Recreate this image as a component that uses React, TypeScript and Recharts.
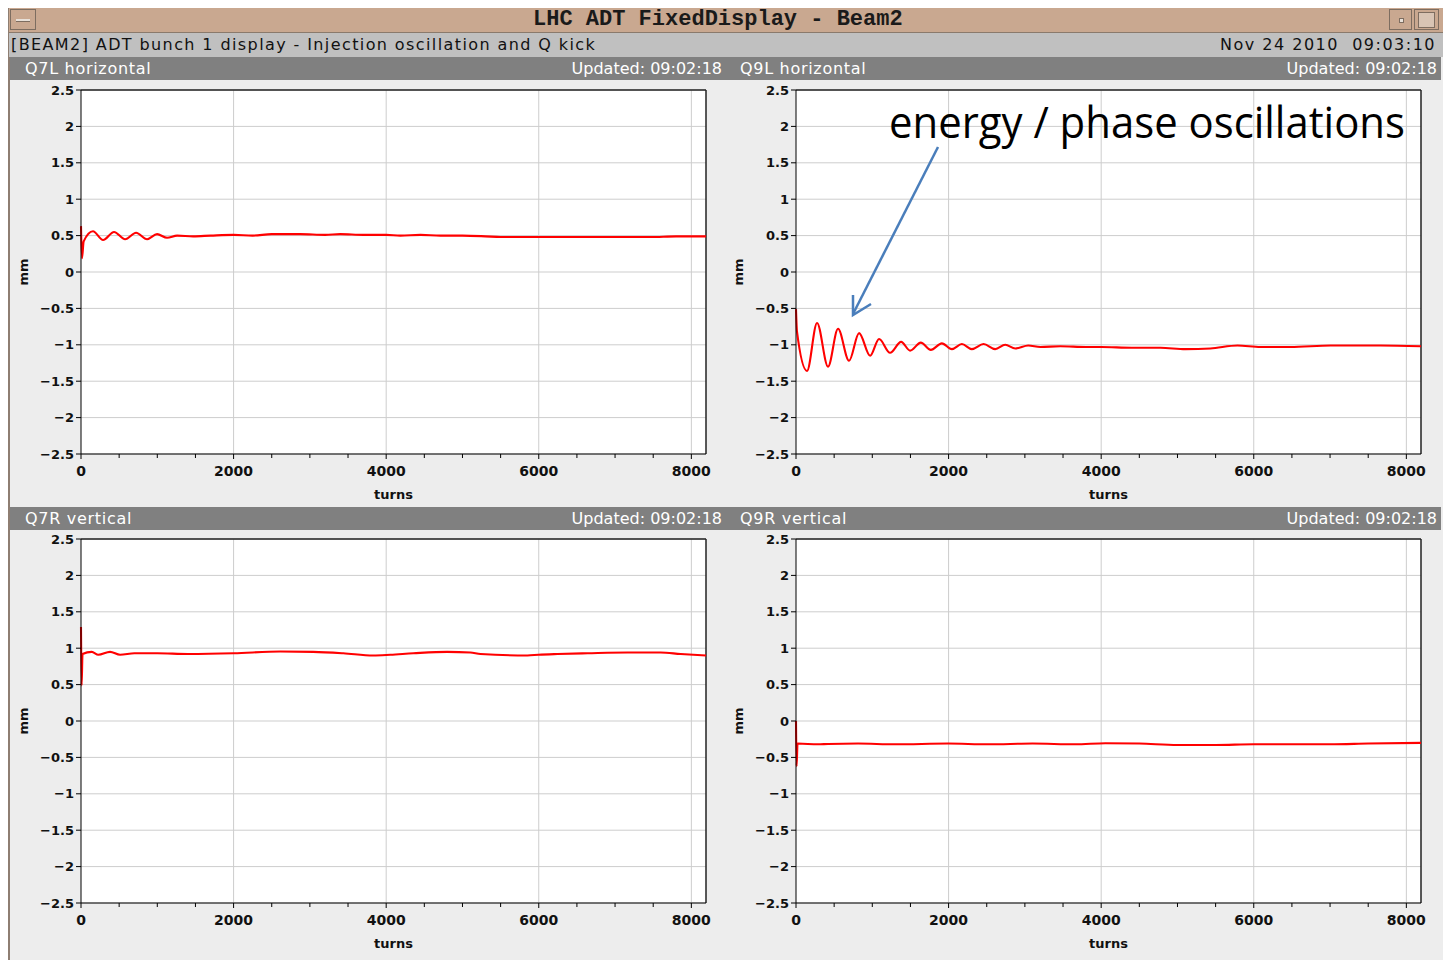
import React from "react";
import { LineChart, Line, XAxis, YAxis, CartesianGrid, ReferenceLine } from "recharts";

// axis setup
const xMax = 8192;
const xTicks = [0, 500, 1000, 1500, 2000, 2500, 3000, 3500, 4000, 4500, 5000, 5500, 6000, 6500, 7000, 7500, 8000];
const xGrid = [2000, 4000, 6000, 8000];
const yTicks = [-2.5, -2, -1.5, -1, -0.5, 0, 0.5, 1, 1.5, 2, 2.5];

// Q7L horizontal
const q7lTurns = [0, 13, 35, 157, 289, 433, 578, 722, 866, 997, 1128, 1260, 1470, 1700, 2000, 2250, 2500, 2874, 3200, 3399, 3700, 4000, 4186, 4450, 4711, 5000, 5300, 5498, 5800, 5997, 6400, 6810, 7100, 7466, 7800, 8192];
const q7lValues = [0.63, 0.19, 0.42, 0.56, 0.44, 0.55, 0.45, 0.54, 0.45, 0.52, 0.47, 0.5, 0.49, 0.5, 0.51, 0.5, 0.52, 0.52, 0.51, 0.52, 0.51, 0.51, 0.5, 0.51, 0.5, 0.5, 0.49, 0.48, 0.48, 0.48, 0.48, 0.48, 0.48, 0.48, 0.49, 0.49];

// Q9L horizontal
const q9lTurns = [0, 13, 144, 276, 420, 551, 695, 827, 971, 1089, 1233, 1378, 1496, 1636, 1767, 1912, 2043, 2174, 2305, 2458, 2611, 2742, 2874, 3044, 3202, 3464, 3800, 4002, 4400, 4776, 5104, 5432, 5787, 6088, 6482, 7007, 7400, 7663, 8192];
const q9lValues = [-0.51, -0.82, -1.36, -0.7, -1.3, -0.78, -1.22, -0.84, -1.15, -0.92, -1.11, -0.96, -1.08, -0.97, -1.07, -0.98, -1.06, -0.99, -1.06, -0.99, -1.06, -1.0, -1.05, -1.01, -1.03, -1.02, -1.03, -1.03, -1.04, -1.04, -1.06, -1.05, -1.01, -1.03, -1.03, -1.01, -1.01, -1.01, -1.02];

// Q7R vertical
const q7rTurns = [0, 8, 20, 140, 227, 381, 512, 700, 1000, 1400, 2000, 2611, 3044, 3438, 3831, 4055, 4356, 4800, 5104, 5236, 5852, 5997, 6246, 6640, 7164, 7597, 7860, 8192];
const q7rValues = [1.29, 0.49, 0.92, 0.95, 0.91, 0.95, 0.91, 0.93, 0.93, 0.92, 0.93, 0.955, 0.95, 0.93, 0.9, 0.91, 0.93, 0.95, 0.94, 0.92, 0.9, 0.91, 0.92, 0.93, 0.94, 0.94, 0.92, 0.9];

// Q9R vertical
const q9rTurns = [0, 8, 20, 289, 420, 814, 1300, 1994, 2519, 3100, 3661, 4055, 4500, 5000, 5500, 6000, 6500, 7000, 7500, 8192];
const q9rValues = [0, -0.62, -0.31, -0.32, -0.315, -0.31, -0.32, -0.31, -0.32, -0.31, -0.32, -0.305, -0.31, -0.33, -0.33, -0.32, -0.32, -0.32, -0.31, -0.3];

const FONT = '"DejaVu Sans", Verdana, sans-serif';

const zip = (turns: number[], values: number[]) => turns.map((t, i) => ({ t, v: values[i] }));

const fmtY = (v: number) => (v < 0 ? `\u2212${Math.abs(v)}` : String(v));

function TurnTick({ x, y, payload }: any) {
  const major = payload.value % 2000 === 0;
  return (
    <g>
      <line x1={x} x2={x} y1={y} y2={y + (major ? 5 : 4)} stroke="#000" />
      {major && (
        <text x={x} y={y + 22} textAnchor="middle" fontFamily={FONT} fontWeight="bold" fontSize={14} fill="#111">
          {payload.value}
        </text>
      )}
    </g>
  );
}

function MmLabel({ viewBox }: any) {
  const cx = viewBox.x - 18;
  const cy = viewBox.y + viewBox.height / 2;
  return (
    <text x={cx} y={cy} transform={`rotate(-90 ${cx} ${cy})`} textAnchor="middle" dominantBaseline="central" fontFamily={FONT} fontWeight="bold" fontSize={13} fill="#111">
      mm
    </text>
  );
}

function TurnsLabel({ viewBox }: any) {
  return (
    <text x={viewBox.x + viewBox.width / 2} y={viewBox.y + 45} textAnchor="middle" fontFamily={FONT} fontWeight="bold" fontSize={13} fill="#111">
      turns
    </text>
  );
}

function Plot({ left, top, turns, values }: { left: number; top: number; turns: number[]; values: number[] }) {
  const data = zip(turns, values);
  return (
    <div style={{ position: "absolute", left, top }}>
      <LineChart width={712} height={420} data={data} margin={{ top: 8, right: 16, bottom: 0, left: 31 }}>
        <CartesianGrid vertical={false} stroke="#cdcdcd" fill="#fff" />
        {xGrid.map((g) => (
          <ReferenceLine key={g} x={g} stroke="#cdcdcd" />
        ))}
        <ReferenceLine y={2.5} stroke="#222" strokeWidth={1.5} />
        <ReferenceLine x={xMax} stroke="#222" strokeWidth={1.5} />
        <XAxis
          dataKey="t"
          type="number"
          domain={[0, xMax]}
          ticks={xTicks}
          interval={0}
          height={48}
          tickSize={0}
          tickMargin={0}
          tickLine={false}
          axisLine={{ stroke: "#000" }}
          tick={<TurnTick />}
          label={<TurnsLabel />}
        />
        <YAxis
          type="number"
          domain={[-2.5, 2.5]}
          ticks={yTicks}
          interval={0}
          width={40}
          tickSize={5}
          tickMargin={2}
          tickFormatter={fmtY}
          axisLine={{ stroke: "#000" }}
          tickLine={{ stroke: "#000" }}
          tick={{ fontFamily: FONT, fontWeight: "bold", fontSize: 13, fill: "#111" }}
          label={<MmLabel />}
        />
        <Line type="monotone" dataKey="v" stroke="#ff0000" strokeWidth={2.1} dot={false} isAnimationActive={false} />
      </LineChart>
    </div>
  );
}

function HeaderRow({ top, names, right }: { top: number; names: string[]; right: string }) {
  const txt: React.CSSProperties = { position: "absolute", top: 0, lineHeight: "23px", color: "#fff", fontSize: 16, whiteSpace: "pre" };
  return (
    <div style={{ position: "absolute", left: 10, top, width: 1431, height: 23, background: "#808080" }}>
      <span style={{ ...txt, left: 15, letterSpacing: 0.7 }}>{names[0]}</span>
      <span style={{ ...txt, right: 1431 - 712 }}>{right}</span>
      <span style={{ ...txt, left: 730, letterSpacing: 0.7 }}>{names[1]}</span>
      <span style={{ ...txt, right: 4 }}>{right}</span>
    </div>
  );
}

export default function App() {
  return (
    <div style={{ position: "absolute", left: 0, top: 0, width: 1445, height: 960, background: "#fff", overflow: "hidden", fontFamily: FONT }}>
      <div style={{ position: "absolute", left: 8, top: 8, width: 1435, height: 952, background: "#ededed", borderLeft: "2px solid #8e7e72", boxSizing: "border-box" }} />
      {/* window title bar */}
      <div style={{ position: "absolute", left: 9, top: 8, width: 1434, height: 25, background: "#c9a890", borderBottom: "1px solid #8a7a6c", boxSizing: "border-box" }}>
        <div style={{ position: "absolute", left: 1, top: 1, width: 26, height: 21, border: "1px solid #7d6d60", boxSizing: "border-box" }}>
          <div style={{ position: "absolute", left: 5, top: 9, width: 14, height: 2, background: "#e8e0d8", borderBottom: "1px solid #7d6d60" }} />
        </div>
        <div style={{ position: "absolute", left: 1380, top: 1, width: 23, height: 21, border: "1px solid #7d6d60", boxSizing: "border-box" }}>
          <div style={{ position: "absolute", left: 9, top: 8, width: 3, height: 3, border: "1px solid #7d6d60", background: "#e8e0d8" }} />
        </div>
        <div style={{ position: "absolute", left: 1405, top: 1, width: 25, height: 21, border: "1px solid #7d6d60", boxSizing: "border-box" }}>
          <div style={{ position: "absolute", left: 3, top: 2, width: 15, height: 14, border: "1px solid #7d6d60", background: "#d8c4b4" }} />
        </div>
        <div style={{ position: "absolute", left: 524, top: 0, lineHeight: "24px", fontFamily: '"Liberation Mono", monospace', fontWeight: "bold", fontSize: 22, color: "#1a1a1a", whiteSpace: "pre" }}>
          LHC ADT FixedDisplay - Beam2
        </div>
      </div>
      {/* subtitle bar */}
      <div style={{ position: "absolute", left: 9, top: 33, width: 1434, height: 24, background: "#c0c0c0" }}>
        <span style={{ position: "absolute", left: 2, top: 0, lineHeight: "24px", fontSize: 16, letterSpacing: 1.4, color: "#111", whiteSpace: "pre" }}>
          [BEAM2] ADT bunch 1 display - Injection oscillation and Q kick
        </span>
        <span style={{ position: "absolute", right: 7, top: 0, lineHeight: "24px", fontSize: 16, letterSpacing: 1.5, color: "#111", whiteSpace: "pre" }}>
          Nov 24 2010  09:03:10
        </span>
      </div>

      <HeaderRow top={57} names={["Q7L horizontal", "Q9L horizontal"]} right="Updated: 09:02:18" />
      <HeaderRow top={507} names={["Q7R vertical", "Q9R vertical"]} right="Updated: 09:02:18" />

      <Plot left={10} top={82} turns={q7lTurns} values={q7lValues} />
      <Plot left={725} top={82} turns={q9lTurns} values={q9lValues} />
      <Plot left={10} top={531} turns={q7rTurns} values={q7rValues} />
      <Plot left={725} top={531} turns={q9rTurns} values={q9rValues} />

      {/* annotation */}
      <svg width={1445} height={960} style={{ position: "absolute", left: 0, top: 0, pointerEvents: "none" }}>
        <text x={889} y={138} fontFamily='"Open Sans", "Noto Sans", sans-serif' fontSize={44} fill="#000" textLength={516} lengthAdjust="spacingAndGlyphs">
          energy / phase oscillations
        </text>
        <line x1={938} y1={147} x2={853} y2={314} stroke="#4a7ebb" strokeWidth={2.5} />
        <polyline points="853,295 853,315 871,304" fill="none" stroke="#4a7ebb" strokeWidth={2.5} />
      </svg>
    </div>
  );
}
